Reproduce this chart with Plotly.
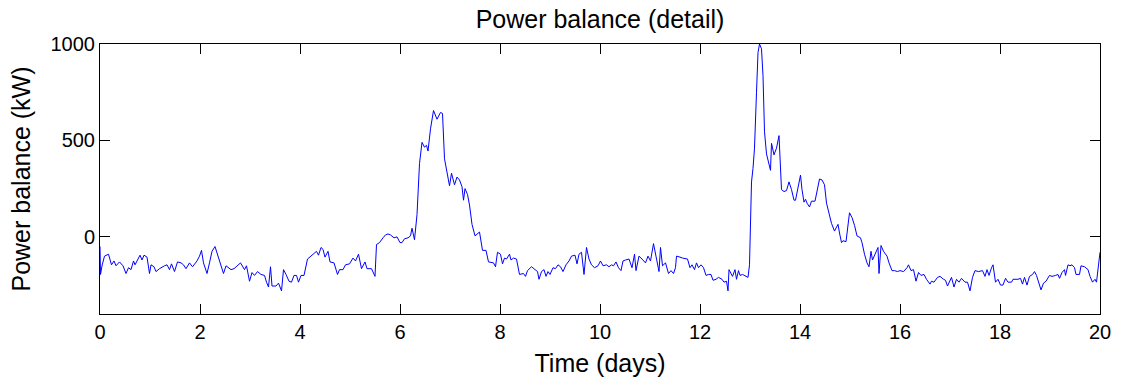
import plotly.graph_objects as go

# Time axis (days) and power balance (kW)
time_days = (
    [0, 0.01, 0.04, 0.09, 0.17, 0.23, 0.28, 0.32, 0.39, 0.46, 0.52, 0.57, 0.62, 0.67, 0.70,
     0.76, 0.80, 0.84, 0.88, 0.94, 0.99, 1.02, 1.08, 1.12, 1.19, 1.29, 1.34, 1.39, 1.43, 1.49,
     1.55, 1.62, 1.67, 1.72, 1.79, 1.85, 1.94, 1.99, 2.03, 2.07, 2.14, 2.19, 2.24, 2.30, 2.35,
     2.42, 2.47, 2.52, 2.57, 2.62, 2.68, 2.75, 2.81, 2.89, 2.93]
    + [2.99, 3.04, 3.09, 3.15, 3.22, 3.29, 3.33, 3.37, 3.41, 3.44, 3.52, 3.57, 3.63, 3.67, 3.72,
       3.78, 3.83, 3.88, 3.93, 3.97, 4.02, 4.08, 4.15, 4.22, 4.28, 4.33, 4.37, 4.42, 4.46, 4.50,
       4.56, 4.60, 4.68, 4.75, 4.79, 4.86, 4.91, 4.99, 5.06, 5.11, 5.17, 5.23, 5.30, 5.34, 5.43,
       5.50, 5.53, 5.59, 5.66, 5.71, 5.76]
    + [5.81, 5.88, 5.94, 6.00, 6.04, 6.09, 6.16, 6.21, 6.24, 6.29, 6.34, 6.39, 6.44, 6.49, 6.53,
       6.56, 6.61, 6.67, 6.74, 6.81, 6.85, 6.89, 6.94, 6.99, 7.03, 7.09, 7.14, 7.19, 7.24, 7.27,
       7.30, 7.35, 7.39, 7.44, 7.50, 7.59, 7.65, 7.72, 7.77, 7.87, 7.91, 7.95, 8.01, 8.05, 8.09,
       8.13, 8.19, 8.22, 8.27, 8.33, 8.39, 8.47, 8.51, 8.55]
    + [8.63, 8.70, 8.75, 8.78, 8.83, 8.88, 8.92, 8.96, 9.00, 9.06, 9.11, 9.16, 9.21, 9.26, 9.32,
       9.38, 9.43, 9.50, 9.54, 9.58, 9.63, 9.68, 9.73, 9.78, 9.83, 9.89, 9.96, 10.01, 10.06, 10.13,
       10.18, 10.23, 10.27, 10.32, 10.37, 10.42, 10.46, 10.51, 10.58, 10.64, 10.69, 10.72, 10.78,
       10.84, 10.91, 10.96, 11.01, 11.07, 11.12, 11.18, 11.21, 11.25, 11.31]
    + [11.37, 11.42, 11.47, 11.51, 11.53, 11.60, 11.65, 11.75, 11.80, 11.84, 11.89, 11.93, 11.97,
       12.02, 12.07, 12.12, 12.17, 12.22, 12.26, 12.32, 12.37, 12.44, 12.48, 12.53, 12.56, 12.58,
       12.62, 12.65, 12.70, 12.73, 12.77, 12.80, 12.85, 12.89, 12.96, 12.99, 13.03, 13.06, 13.09,
       13.13, 13.16, 13.19, 13.23, 13.26, 13.29, 13.33, 13.37, 13.41, 13.43, 13.48, 13.53, 13.58,
       13.63, 13.68, 13.73, 13.78, 13.83, 13.88, 13.91, 13.96, 14.01, 14.04, 14.08, 14.11]
    + [14.14, 14.19, 14.23, 14.30, 14.34, 14.39, 14.44, 14.49, 14.53, 14.58, 14.63, 14.69, 14.76,
       14.79, 14.83, 14.86, 14.92, 14.99, 15.04, 15.09, 15.14, 15.21, 15.24, 15.29, 15.34, 15.38,
       15.42, 15.45, 15.52, 15.56, 15.58, 15.62, 15.67, 15.74, 15.78, 15.84, 15.89, 15.95, 16.00,
       16.07, 16.14, 16.17, 16.22, 16.27, 16.32, 16.37, 16.42, 16.48, 16.53, 16.60, 16.63, 16.68,
       16.75, 16.80, 16.87, 16.91, 16.95, 17.00]
    + [17.03, 17.08, 17.13, 17.18, 17.23, 17.30, 17.35, 17.40, 17.45, 17.50, 17.57, 17.65, 17.70,
       17.74, 17.78, 17.83, 17.86, 17.91, 17.96, 18.01, 18.06, 18.11, 18.16, 18.23, 18.26, 18.36,
       18.41, 18.45, 18.49, 18.54, 18.59, 18.65, 18.69, 18.73, 18.78, 18.82, 18.87, 18.92, 18.99,
       19.04, 19.11, 19.16, 19.19, 19.24, 19.29, 19.31, 19.36, 19.40, 19.44, 19.49, 19.52, 19.59,
       19.62, 19.69, 19.76, 19.80, 19.85, 19.90, 19.93, 19.97, 20.00]
)

power_kw = (
    [-50, -195, -150, -100, -90, -145, -125, -150, -130, -150, -190, -160, -170, -125, -145,
     -115, -95, -120, -95, -105, -190, -145, -155, -180, -165, -150, -145, -170, -140, -180,
     -130, -135, -145, -165, -135, -155, -125, -100, -70, -135, -190, -135, -75, -50, -90,
     -145, -190, -150, -160, -170, -165, -150, -135, -170, -150]
    + [-230, -185, -200, -180, -195, -200, -235, -260, -155, -255, -255, -240, -280, -170, -195,
       -230, -235, -200, -200, -235, -200, -200, -115, -100, -90, -75, -95, -55, -65, -105,
       -75, -130, -135, -195, -170, -170, -145, -140, -110, -125, -90, -165, -130, -165, -165,
       -205, -40, -30, -5, 10, 15]
    + [10, -5, 0, -30, -30, -10, -5, 5, 45, -15, 115, 380, 490, 465, 475,
       445, 560, 655, 610, 645, 640, 405, 340, 265, 330, 270, 310, 295, 260, 190,
       250, 220, 165, 65, 5, 25, -70, -70, -130, -135, -155, -80, -90, -140, -110,
       -115, -90, -120, -110, -115, -195, -190, -205, -175]
    + [-155, -170, -180, -220, -180, -170, -205, -180, -195, -160, -165, -145, -155, -180, -145,
       -125, -100, -95, -140, -90, -80, -195, -55, -115, -145, -160, -150, -125, -150, -145,
       -155, -145, -150, -130, -160, -175, -125, -120, -115, -160, -90, -175, -100,
       -115, -135, -100, -125, -35, -110, -180, -55, -150, -135]
    + [-190, -175, -190, -160, -100, -105, -110, -115, -160, -145, -170, -135, -160,
       -145, -160, -200, -195, -195, -225, -220, -210, -220, -235, -230, -280, -170,
       -190, -205, -170, -220, -175, -200, -195, -200, -210, -145, 285, 355, 460,
       750, 955, 1000, 975, 835, 545, 430, 380, 345, 485, 425, 460, 525,
       245, 235, 240, 285, 245, 190, 190, 250, 320, 245, 180, 195]
    + [175, 155, 185, 185, 245, 300, 295, 270, 175, 125, 70, 30, 65,
       20, -30, -20, -25, 125, 100, 60, 5, -5, -30, -90, -135, -155,
       -75, -120, -80, -55, -190, -45, -75, -100, -135, -175, -175, -180, -175,
       -180, -160, -145, -175, -170, -230, -185, -200, -195, -220, -245, -230, -235,
       -210, -205, -220, -225, -255, -225]
    + [-210, -260, -220, -235, -215, -235, -235, -280, -210, -175, -180, -175, -205,
       -170, -200, -160, -145, -235, -220, -250, -250, -215, -235, -235, -220, -220,
       -215, -245, -210, -250, -205, -195, -180, -200, -250, -275, -240, -230, -200,
       -205, -200, -195, -215, -185, -170, -200, -145, -150, -145, -160, -195, -195,
       -150, -155, -170, -205, -235, -220, -235, -150, -80]
)

assert len(time_days) == len(power_kw)

x_ticks = [0, 2, 4, 6, 8, 10, 12, 14, 16, 18, 20]
y_ticks = [0, 500, 1000]

FONT = "Liberation Sans, Arial, Helvetica, sans-serif"

fig = go.Figure()
fig.add_trace(go.Scatter(
    x=time_days, y=power_kw, mode="lines",
    line=dict(color="#0000ff", width=1),
    hoverinfo="x+y", showlegend=False,
))

fig.update_layout(
    width=1123, height=385,
    margin=dict(l=100, r=19, t=44, b=69),
    paper_bgcolor="white", plot_bgcolor="white",
    font=dict(family=FONT, color="black", size=20),
    title=dict(text="Power balance (detail)", x=0.5, xref="paper", xanchor="center",
               y=1 - 19 / 385, yref="container", yanchor="middle",
               font=dict(family=FONT, size=25, color="black")),
    showlegend=False,
)

axis_common = dict(
    showline=True, linecolor="black", linewidth=1, mirror="ticks",
    ticks="inside", ticklen=10, tickwidth=1, tickcolor="black",
    showgrid=False, zeroline=False,
    tickfont=dict(family=FONT, size=20, color="black"),
)

fig.update_xaxes(
    range=[0, 20], tickmode="array", tickvals=x_ticks,
    ticktext=[str(v) for v in x_ticks],
    title=dict(text="Time (days)", font=dict(family=FONT, size=25, color="black"), standoff=12),
    **axis_common,
)
fig.update_yaxes(
    range=[-400, 1000], tickmode="array", tickvals=y_ticks,
    ticktext=[str(v) for v in y_ticks],
    title=dict(text="Power balance (kW)", font=dict(family=FONT, size=25, color="black"), standoff=12),
    **axis_common,
)

fig.write_html("out.html")
